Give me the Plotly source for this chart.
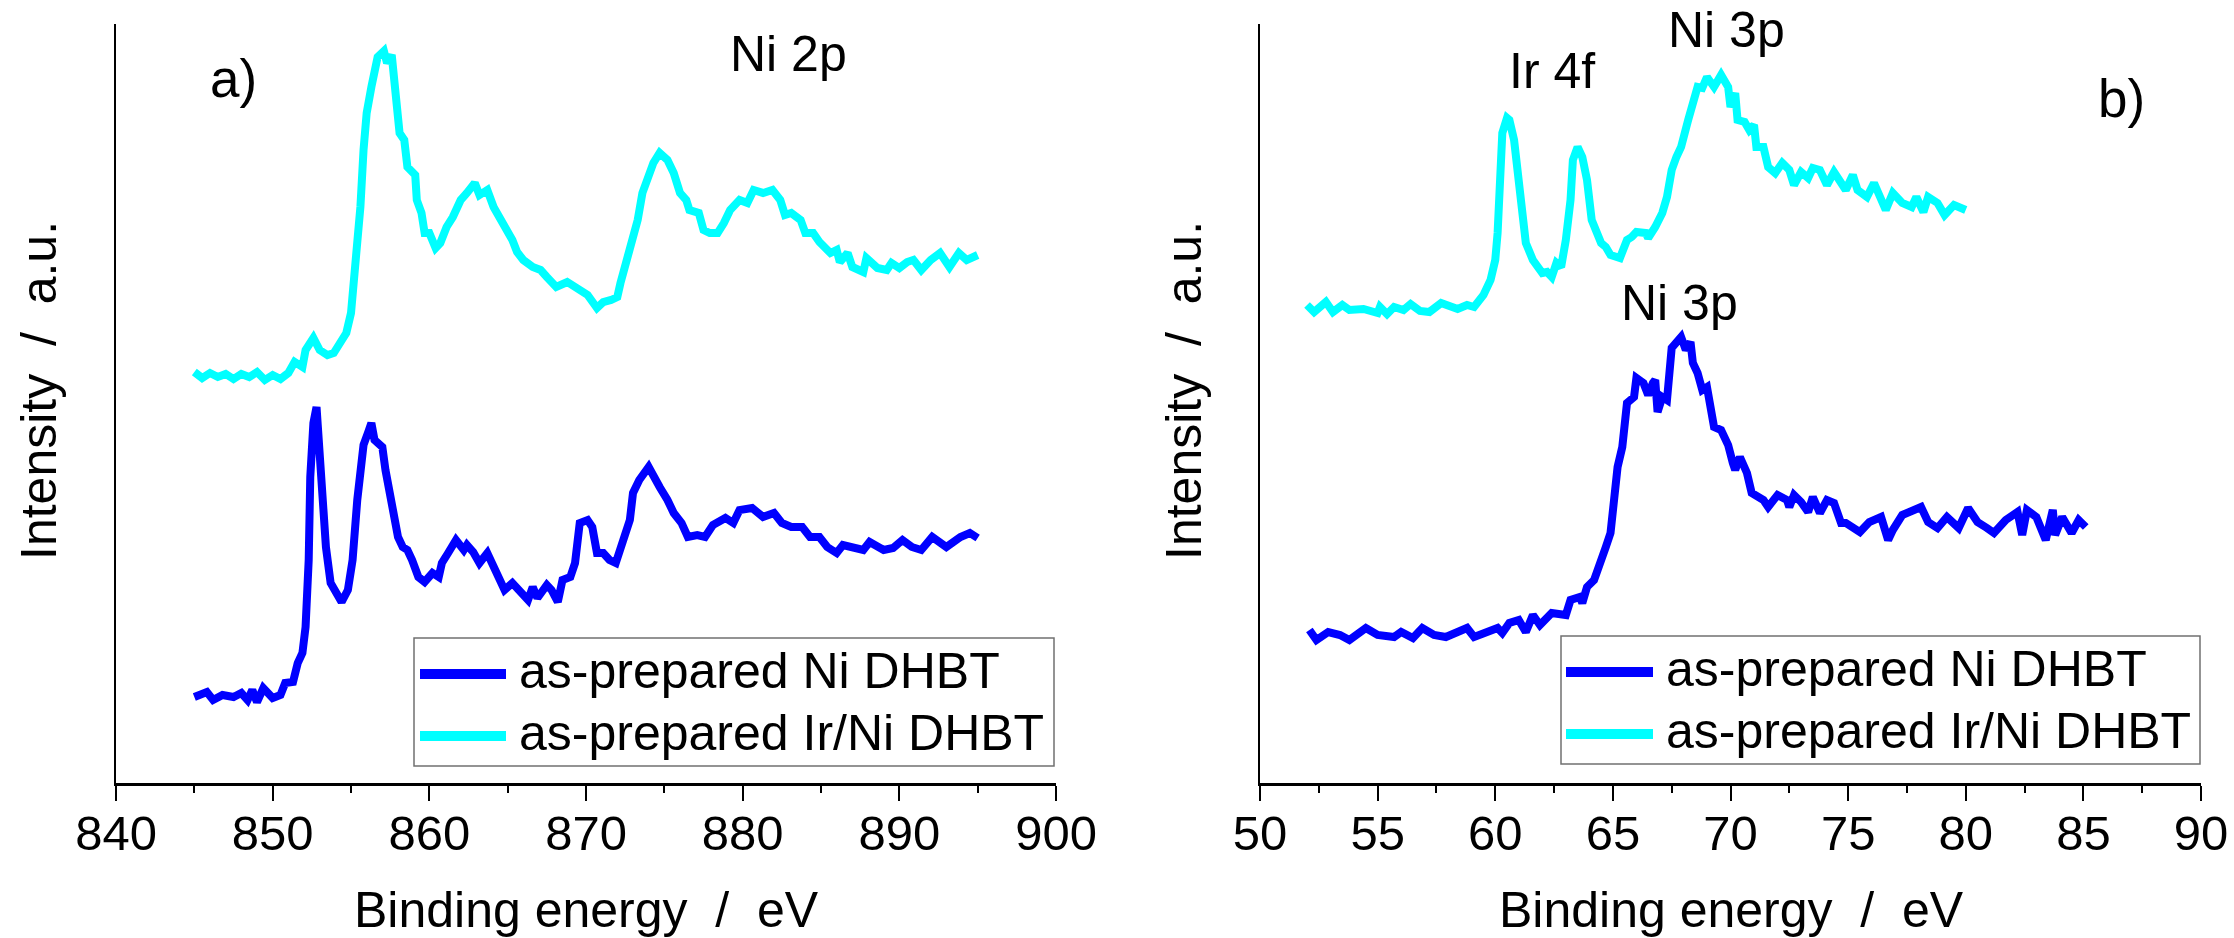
import plotly.graph_objects as go

# ---------------- data ----------------
# a) Ni 2p region
ni2p_energy_ni = [
    845.0, 845.8, 846.2, 846.8, 847.5, 848.0, 848.4, 848.7, 849.0, 849.4, 850.0, 850.5,
    850.8, 851.3, 851.6, 851.9, 852.1, 852.3, 852.4, 852.6, 852.8, 853.0, 853.2, 853.4,
    853.7, 854.0, 854.4, 854.8, 855.1, 855.4, 855.6, 855.8, 856.1, 856.3, 856.5, 857.0,
    857.2, 857.5, 857.8, 858.0, 858.3, 858.6, 858.9, 859.3, 859.7, 860.2, 860.6, 860.8,
    861.2, 861.7, 862.2, 862.4, 862.8, 863.2, 863.7, 864.0, 864.4, 864.8, 865.3, 865.8,
    866.3, 866.6, 866.9, 867.5, 867.8, 868.2, 868.5, 869.0, 869.3, 869.6, 870.1, 870.4,
    870.7, 871.1, 871.5, 871.9, 872.4, 872.8, 873.0, 873.4, 874.0, 874.3, 874.7, 875.2,
    875.6, 876.1, 876.5, 877.1, 877.6, 878.1, 878.9, 879.4, 879.8, 880.6, 881.3, 882.0,
    882.5, 883.1, 883.8, 884.3, 884.9, 885.4, 886.0, 886.4, 887.0, 887.7, 888.1, 889.0,
    889.6, 890.2, 890.8, 891.4, 892.1, 893.0, 893.9, 894.5, 895.0,
]
ni2p_intensity_ni = [
    86, 91, 83, 88, 86, 90, 83, 93, 81, 95, 85, 88,
    100, 101, 120, 130, 156, 223, 306, 360, 376, 330, 273, 236,
    200, 190, 181, 193, 223, 283, 313, 338, 351, 360, 343, 336,
    313, 286, 263, 246, 236, 233, 223, 206, 201, 210, 206, 220,
    230, 243, 233, 238, 231, 220, 230, 220, 206, 193, 200, 190,
    183, 196, 185, 198, 193, 181, 203, 206, 220, 260, 263, 256,
    230, 230, 223, 220, 243, 263, 290, 303, 316, 306, 296, 283,
    270, 260, 246, 248, 246, 258, 265, 260, 273, 275, 266, 270,
    260, 256, 256, 246, 246, 236, 230, 238, 235, 233, 241, 233,
    235, 243, 236, 233, 246, 236, 246, 250, 245,
]

ni2p_energy_irni = [
    845.0, 845.5, 846.0, 846.5, 847.0, 847.5, 848.0, 848.5, 849.0, 849.5, 850.0, 850.5,
    851.0, 851.4, 851.9, 852.1, 852.6, 853.0, 853.5, 853.9, 854.3, 854.7, 855.0, 855.2,
    855.4, 855.6, 855.8, 856.0, 856.3, 856.5, 856.7, 857.1, 857.3, 857.6, 857.8, 858.0,
    858.1, 858.4, 858.6, 859.1, 859.2, 859.5, 859.7, 860.0, 860.4, 860.7, 861.1, 861.5,
    862.0, 862.4, 862.9, 863.2, 863.7, 864.1, 864.5, 865.0, 865.3, 865.6, 866.0, 866.6,
    867.1, 867.5, 868.1, 868.8, 869.4, 870.1, 870.7, 871.1, 871.6, 872.0, 872.2, 872.5,
    873.0, 873.3, 873.6, 874.0, 874.3, 874.7, 875.2, 875.6, 876.0, 876.4, 876.6, 877.2,
    877.5, 877.9, 878.4, 878.8, 879.2, 879.8, 880.3, 880.7, 881.3, 881.9, 882.4, 882.7,
    883.1, 883.7, 884.0, 884.5, 884.9, 885.6, 886.0, 886.2, 886.7, 887.0, 887.7, 887.9,
    888.6, 889.2, 889.5, 890.0, 890.5, 890.9, 891.4, 892.0, 892.6, 893.2, 893.8, 894.3,
    895.0,
]
ni2p_intensity_irni = [
    411, 405, 410, 406, 409, 404, 409, 406, 411, 403, 408, 404,
    410, 421, 416, 433, 445, 433, 428, 430, 440, 450, 470, 500,
    533, 576, 633, 670, 696, 716, 726, 732, 720, 728, 700, 673,
    650, 643, 616, 608, 583, 570, 550, 550, 535, 540, 556, 566,
    583, 590, 600, 588, 593, 576, 566, 553, 543, 531, 523, 516,
    513, 506, 496, 501, 496, 488, 475, 481, 483, 486, 500, 516,
    540, 563, 590, 606, 620, 630, 623, 610, 590, 583, 573, 570,
    553, 550, 550, 560, 573, 583, 580, 593, 590, 593, 583, 568,
    570, 563, 550, 550, 541, 530, 533, 521, 530, 516, 511, 525,
    515, 513, 520, 515, 521, 523, 513, 523, 530, 516, 530, 523,
    528,
]

# b) Ni 3p / Ir 4f region
ni3p_energy_ni = [
    52.1, 52.4, 52.9, 53.4, 53.8, 54.5, 55.0, 55.7, 56.0, 56.5, 56.9, 57.4,
    57.9, 58.4, 58.8, 59.1, 59.6, 60.1, 60.3, 60.6, 61.0, 61.3, 61.6, 61.9,
    62.4, 63.0, 63.2, 63.6, 63.7, 63.9, 64.2, 64.5, 64.7, 64.9, 65.0, 65.2,
    65.4, 65.5, 65.6, 65.9, 66.0, 66.3, 66.5, 66.7, 66.8, 66.9, 67.1, 67.3,
    67.5, 67.9, 68.1, 68.3, 68.4, 68.6, 68.8, 69.0, 69.1, 69.3, 69.6, 69.9,
    70.1, 70.2, 70.4, 70.7, 70.9, 71.2, 71.4, 71.6, 72.0, 72.4, 72.5, 72.7,
    73.0, 73.3, 73.5, 73.8, 74.1, 74.4, 74.7, 74.9, 75.5, 75.9, 76.4, 76.7,
    76.9, 77.3, 77.7, 78.1, 78.4, 78.8, 79.2, 79.7, 80.1, 80.5, 80.9, 81.2,
    81.7, 82.2, 82.4, 82.6, 83.0, 83.4, 83.7, 83.8, 84.1, 84.5, 84.8, 85.1,
]
ni3p_intensity_ni = [
    153, 143, 151, 148, 143, 155, 148, 146, 151, 145, 155, 148,
    146, 151, 155, 146, 151, 155, 150, 160, 163, 151, 168, 158,
    170, 168, 183, 186, 180, 196, 203, 220, 236, 250, 276, 316,
    336, 360, 380, 386, 405, 400, 388, 400, 403, 371, 386, 383,
    435, 446, 433, 441, 420, 410, 393, 396, 380, 356, 353, 338,
    320, 313, 326, 310, 290, 286, 283, 276, 288, 283, 276, 288,
    281, 271, 286, 270, 283, 280, 260, 260, 251, 261, 266, 243,
    253, 268, 273, 276, 261, 255, 266, 255, 275, 261, 255, 250,
    263, 271, 248, 273, 266, 243, 273, 248, 266, 250, 263, 256,
]

ni3p_energy_irni = [
    52.0, 52.3, 52.8, 53.1, 53.5, 53.8, 54.4, 55.0, 55.1, 55.4, 55.7, 56.1,
    56.4, 56.8, 57.2, 57.7, 58.4, 58.8, 59.1, 59.5, 59.8, 60.0, 60.1, 60.2,
    60.3, 60.5, 60.6, 60.8, 61.0, 61.1, 61.3, 61.6, 61.8, 62.0, 62.2, 62.4,
    62.6, 62.8, 63.0, 63.2, 63.3, 63.5, 63.7, 63.9, 64.1, 64.3, 64.5, 64.7,
    64.9, 65.3, 65.4, 65.6, 65.8, 66.0, 66.4, 66.5, 66.8, 67.1, 67.3, 67.5,
    67.7, 67.9, 68.2, 68.4, 68.6, 68.8, 69.0, 69.3, 69.6, 69.9, 70.0, 70.2,
    70.3, 70.6, 70.8, 71.0, 71.1, 71.4, 71.6, 71.9, 72.2, 72.5, 72.7, 73.0,
    73.3, 73.5, 73.8, 74.1, 74.4, 74.9, 75.2, 75.4, 75.8, 76.1, 76.4, 76.6,
    76.9, 77.3, 77.7, 77.9, 78.2, 78.4, 78.8, 79.1, 79.5, 80.0,
]
ni3p_intensity_irni = [
    478, 471, 481, 471, 478, 473, 474, 470, 476, 469, 476, 473,
    479, 472, 471, 480, 474, 478, 476, 488, 503, 523, 550, 600,
    650, 665, 663, 643, 603, 570, 540, 523, 516, 510, 511, 506,
    520, 516, 543, 583, 623, 636, 626, 603, 563, 550, 540, 536,
    528, 525, 533, 543, 546, 551, 550, 545, 556, 570, 586, 613,
    626, 636, 663, 680, 696, 695, 706, 696, 708, 696, 676, 690,
    663, 661, 653, 658, 636, 636, 616, 610, 620, 613, 598, 611,
    605, 615, 613, 598, 611, 593, 608, 593, 586, 600, 583, 573,
    590, 580, 576, 586, 571, 586, 580, 568, 578, 573,
]

series_names = ["as-prepared Ni DHBT", "as-prepared Ir/Ni DHBT"]
series_colors = ["#0000FF", "#00FFFF"]

ni2p_ticks = [840, 850, 860, 870, 880, 890, 900]
ni3p_ticks = [50, 55, 60, 65, 70, 75, 80, 85, 90]

# ---------------- styling ----------------
FONT = "Arial, 'Liberation Sans', sans-serif"
W, H = 2234, 938
LINE_W = 8
NB = "\u00a0"


def px_x(p):
    return p / W


def px_y(p):
    return 1 - p / H


fig = go.Figure()

panels = [
    ("x", "y", ni2p_energy_ni, ni2p_intensity_ni, ni2p_energy_irni, ni2p_intensity_irni),
    ("x2", "y2", ni3p_energy_ni, ni3p_intensity_ni, ni3p_energy_irni, ni3p_intensity_irni),
]
for xa, ya, e_ni, i_ni, e_ir, i_ir in panels:
    for name, color, ex, iy in ((series_names[0], series_colors[0], e_ni, i_ni),
                                (series_names[1], series_colors[1], e_ir, i_ir)):
        fig.add_trace(go.Scatter(
            x=ex, y=iy, mode="lines", name=name, xaxis=xa, yaxis=ya, showlegend=False,
            line=dict(color=color, width=LINE_W),
        ))

x_dom_a = [px_x(116), px_x(1056)]
x_dom_b = [px_x(1260), px_x(2201)]
y_dom = [px_y(783), px_y(24)]

common_x = dict(
    showline=True, linecolor="black", linewidth=3, mirror=False,
    ticks="outside", ticklen=15, tickwidth=2, tickcolor="black",
    showgrid=False, zeroline=False, ticklabelstandoff=-10,
    tickfont=dict(family=FONT, size=49, color="black"),
)
common_y = dict(
    showline=True, linecolor="black", linewidth=2, ticks="", showticklabels=False,
    showgrid=False, zeroline=False, range=[0, 759],
)

fig.update_layout(
    width=W, height=H,
    margin=dict(l=0, r=0, t=0, b=0, autoexpand=False),
    paper_bgcolor="white", plot_bgcolor="white",
    font=dict(family=FONT, color="black"),
    showlegend=False,
    xaxis=dict(domain=x_dom_a, range=[840, 900], tickvals=ni2p_ticks, anchor="y",
               minor=dict(dtick=5, tick0=840, ticks="outside", ticklen=7, tickwidth=2, tickcolor="black"),
               **common_x),
    xaxis2=dict(domain=x_dom_b, range=[50, 90], tickvals=ni3p_ticks, anchor="y2",
                minor=dict(dtick=2.5, tick0=50, ticks="outside", ticklen=7, tickwidth=2, tickcolor="black"),
                **common_x),
    yaxis=dict(domain=y_dom, anchor="x", **common_y),
    yaxis2=dict(domain=y_dom, anchor="x2", **common_y),
)

# axis titles
xtitle = f"Binding energy{NB}{NB}/{NB}{NB}eV"
ytitle = f"Intensity{NB}{NB}/{NB}{NB}a.u."
title_font = dict(family=FONT, size=50, color="black")
for cx in (586, 1731):
    fig.add_annotation(text=xtitle, xref="paper", yref="paper", x=px_x(cx), y=px_y(910),
                       xanchor="center", yanchor="middle", showarrow=False, font=title_font)
for cx in (39, 1184):
    fig.add_annotation(text=ytitle, xref="paper", yref="paper", x=px_x(cx), y=px_y(391),
                       xanchor="center", yanchor="middle", textangle=-90, showarrow=False,
                       font=title_font)

# peak and panel labels (data coordinates)
labels = [
    ("x", "y", 847.5, 704, "a)", 53),
    ("x", "y", 882.9, 729, "Ni 2p", 50),
    ("x2", "y2", 62.4, 712, "Ir 4f", 50),
    ("x2", "y2", 69.85, 753, "Ni 3p", 50),
    ("x2", "y2", 67.85, 480, "Ni 3p", 50),
    ("x2", "y2", 86.6, 684, "b)", 53),
]
for xr, yr, lx, ly, txt, fs in labels:
    fig.add_annotation(text=txt, xref=xr, yref=yr, x=lx, y=ly, showarrow=False,
                       xanchor="center", yanchor="middle",
                       font=dict(family=FONT, size=fs, color="black"))

# legend boxes (one per panel): frame, line keys and entry texts
legend_boxes = [
    # left, right, top, bottom, key start, key end, text start, row centres
    (414, 1054, 638, 766, 420, 506, 517, (674, 736)),
    (1561, 2200, 636, 764, 1566, 1653, 1664, (672, 734)),
]
for bl, br, bt, bb, k0, k1, tx, rows in legend_boxes:
    fig.add_shape(type="rect", xref="paper", yref="paper",
                  x0=px_x(bl), x1=px_x(br), y0=px_y(bb), y1=px_y(bt),
                  line=dict(color="#707070", width=1.5), fillcolor="white", layer="above")
    for name, color, ry in zip(series_names, series_colors, rows):
        fig.add_shape(type="line", xref="paper", yref="paper",
                      x0=px_x(k0), x1=px_x(k1), y0=px_y(ry), y1=px_y(ry),
                      line=dict(color=color, width=10), layer="above")
        fig.add_annotation(text=name, xref="paper", yref="paper", x=px_x(tx), y=px_y(ry - 3),
                           xanchor="left", yanchor="middle", showarrow=False,
                           font=dict(family=FONT, size=50, color="black"))

fig.write_html("out.html")
